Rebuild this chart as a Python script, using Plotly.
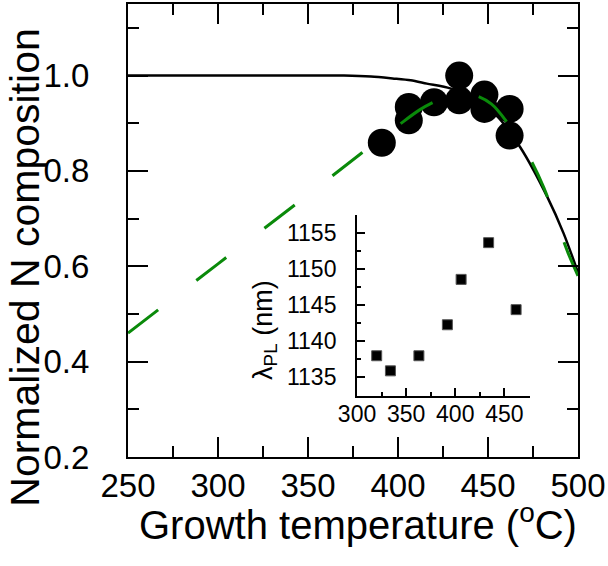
import plotly.graph_objects as go

# ---- data ----
# black solid curve (Normalized N composition vs growth temperature)
fit_T = [250, 300, 350, 370, 385, 397, 407, 416, 429, 440, 455, 468, 483, 492, 500]
fit_N = [1.0, 1.0, 1.0, 1.0, 0.998, 0.994, 0.99, 0.983, 0.973, 0.956, 0.915, 0.849, 0.745, 0.669, 0.587]

# green dashed curve
model_T = [250, 300, 350, 380, 400, 412, 422, 432, 443, 452, 460, 473, 481, 489, 495, 500]
model_N = [0.46, 0.605, 0.75, 0.838, 0.895, 0.928, 0.948, 0.960, 0.958, 0.94, 0.905, 0.828, 0.765, 0.684, 0.623, 0.58]

# measured points (big circles)
meas_T = [391, 406, 406, 420, 434, 434, 448, 448, 462, 462]
meas_N = [0.859, 0.934, 0.906, 0.944, 1.0, 0.948, 0.960, 0.930, 0.930, 0.874]

# inset: PL wavelength vs growth temperature
inset_T = [320, 334, 363, 392, 406, 434, 462]
inset_PL = [1138.0, 1135.9, 1138.0, 1142.3, 1148.6, 1153.7, 1144.4]

main_xticks = [250, 300, 350, 400, 450, 500]
main_yticks = [0.2, 0.4, 0.6, 0.8, 1.0]
inset_xticks = [300, 350, 400, 450]
inset_yticks = [1135, 1140, 1145, 1150, 1155]

FONT = "Arial, Liberation Sans, sans-serif"

fig = go.Figure()
fig.add_trace(go.Scatter(x=fit_T, y=fit_N, mode="lines",
                         line=dict(color="black", width=2.5, shape="spline", smoothing=0.8)))
fig.add_trace(go.Scatter(x=meas_T, y=meas_N, mode="markers",
                         marker=dict(color="black", size=28, line=dict(width=0))))
fig.add_trace(go.Scatter(x=model_T, y=model_N, mode="lines",
                         line=dict(color="#0a8a0a", width=3, dash="38px,48px",
                                   shape="spline", smoothing=0.8)))
fig.add_trace(go.Scatter(x=inset_T, y=inset_PL, mode="markers", xaxis="x2", yaxis="y2",
                         marker=dict(color="black", symbol="square", size=10,
                                     line=dict(width=1, color="#555555"))))

axis_common = dict(showline=True, linewidth=2, linecolor="black", showgrid=False,
                   zeroline=False, ticks="inside", tickcolor="black", tickwidth=2,
                   automargin=False)

fig.update_layout(
    width=608, height=566,
    margin=dict(l=128, r=30, t=4, b=109),
    plot_bgcolor="white", paper_bgcolor="white",
    showlegend=False,
    font=dict(family=FONT, color="black"),
    xaxis=dict(**axis_common, range=[250, 500], tickvals=main_xticks, ticklen=20,
               mirror="allticks", tickfont=dict(size=33), ticklabelstandoff=-2,
               minor=dict(dtick=25, tick0=250, ticklen=11, tickwidth=2, ticks="inside",
                          tickcolor="black")),
    yaxis=dict(**axis_common, range=[0.2, 1.15], tickvals=main_yticks, ticklen=20,
               mirror="allticks", tickfont=dict(size=33), ticklabelstandoff=30,
               tickformat=".1f",
               minor=dict(dtick=0.1, tick0=0.2, ticklen=11, tickwidth=2, ticks="inside",
                          tickcolor="black")),
    xaxis2=dict(**axis_common, domain=[0.509, 0.893], anchor="y2", range=[300, 476],
                tickvals=inset_xticks, ticklen=8, tickfont=dict(size=23),
                ticklabelstandoff=-4,
                minor=dict(dtick=25, tick0=300, ticklen=4, tickwidth=2, ticks="inside",
                           tickcolor="black")),
    yaxis2=dict(**axis_common, domain=[0.1345, 0.5336], anchor="x2", range=[1132.4, 1157.5],
                tickvals=inset_yticks, ticklen=8, tickfont=dict(size=23),
                ticklabelstandoff=14,
                minor=dict(dtick=2.5, tick0=1135, ticklen=4, tickwidth=2, ticks="inside",
                           tickcolor="black")),
    annotations=[
        dict(text="Growth temperature (<sup>o</sup>C)", xref="paper", yref="paper",
             x=0.512, y=-0.1433, xanchor="center", yanchor="middle", showarrow=False,
             font=dict(size=40, family=FONT, color="black")),
        dict(text="Normalized N composition", xref="paper", yref="paper",
             x=-0.229, y=0.42, xanchor="center", yanchor="middle", showarrow=False,
             textangle=-90, font=dict(size=41, family=FONT, color="black")),
        dict(text="λ<sub>PL</sub> (nm)", xref="paper", yref="paper",
             x=0.304, y=0.28, xanchor="center", yanchor="middle", showarrow=False,
             textangle=-90, font=dict(size=27, family=FONT, color="black")),
    ],
)

fig.write_html("out.html", config={"displayModeBar": False},
               post_script="document.body.style.margin='0px';")
